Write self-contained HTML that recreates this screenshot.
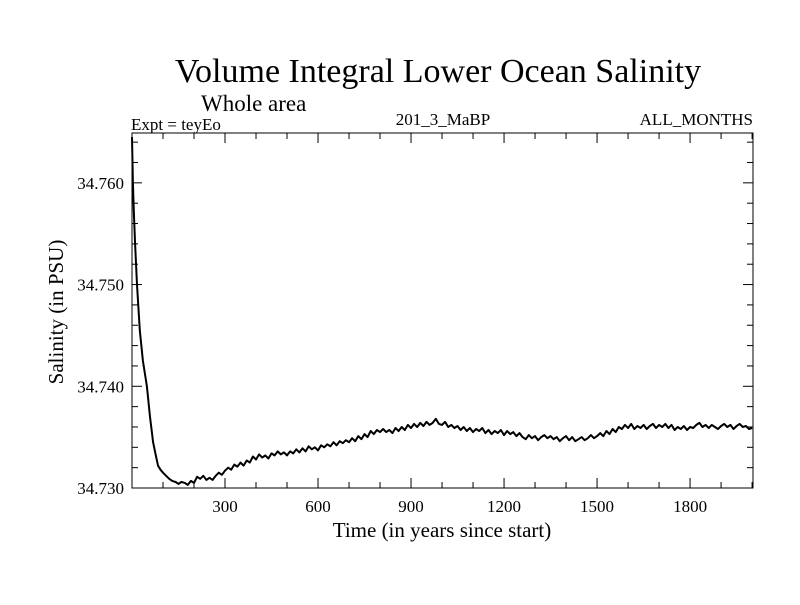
<!DOCTYPE html>
<html><head><meta charset="utf-8"><style>
body{margin:0;background:#fff;}
svg text{font-family:"Liberation Serif",serif;fill:#000;}
</style></head><body>
<svg id="chart" width="800" height="600" viewBox="0 0 800 600">
<text x="438" y="82" font-size="34" text-anchor="middle">Volume Integral Lower Ocean Salinity</text>
<text x="201" y="111" font-size="23">Whole area</text>
<text x="131" y="130" font-size="17">Expt = teyEo</text>
<text x="443" y="125" font-size="17" text-anchor="middle">201_3_MaBP</text>
<text x="753" y="125" font-size="17" text-anchor="end">ALL_MONTHS</text>
<text x="442" y="537" font-size="21" text-anchor="middle">Time (in years since start)</text>
<text transform="translate(63,312) rotate(-90)" font-size="21" text-anchor="middle">Salinity (in PSU)</text>
<g id="axes"></g>
<path id="line" fill="none" stroke="#000" stroke-width="2" stroke-linejoin="round"/>
<rect x="132" y="133" width="621" height="355" fill="none" stroke="#000" stroke-width="1"/>
</svg>
<script>
const years = [0,3,6,10,16,25,35,48,58,68,76,84,92,100,110,120,130,140,150,160,170,180,190,200,210,220,230,240,250,260,270,280,290,300,310,320,330,340,350,360,370,380,390,400,410,420,430,440,450,460,470,480,490,500,510,520,530,540,550,560,570,580,590,600,610,620,630,640,650,660,670,680,690,700,710,720,730,740,750,760,770,780,790,800,810,820,830,840,850,860,870,880,890,900,910,920,930,940,950,960,970,980,990,1000,1010,1020,1030,1040,1050,1060,1070,1080,1090,1100,1110,1120,1130,1140,1150,1160,1170,1180,1190,1200,1210,1220,1230,1240,1250,1260,1270,1280,1290,1300,1310,1320,1330,1340,1350,1360,1370,1380,1390,1400,1410,1420,1430,1440,1450,1460,1470,1480,1490,1500,1510,1520,1530,1540,1550,1560,1570,1580,1590,1600,1610,1620,1630,1640,1650,1660,1670,1680,1690,1700,1710,1720,1730,1740,1750,1760,1770,1780,1790,1800,1810,1820,1830,1840,1850,1860,1870,1880,1890,1900,1910,1920,1930,1940,1950,1960,1970,1980,1990,2000];
const salinity = [34.7645,34.760,34.757,34.754,34.750,34.7455,34.7425,34.740,34.737,34.7345,34.7333,34.7322,34.7318,34.7315,34.7312,34.7309,34.7307,34.7306,34.7304,34.7306,34.7305,34.7303,34.7307,34.7305,34.7311,34.7309,34.7312,34.7308,34.7310,34.7308,34.7312,34.7315,34.7313,34.7317,34.7320,34.7318,34.7323,34.7321,34.7325,34.7322,34.7327,34.7325,34.7331,34.7328,34.7333,34.7330,34.7332,34.7329,34.7334,34.7332,34.7336,34.7333,34.7335,34.7332,34.7336,34.7334,34.7338,34.7335,34.7339,34.7336,34.7341,34.7338,34.7340,34.7337,34.7342,34.7340,34.7343,34.7341,34.7345,34.7342,34.7346,34.7344,34.7347,34.7345,34.7349,34.7346,34.7351,34.7348,34.7353,34.7350,34.7356,34.7353,34.7357,34.7355,34.7358,34.7355,34.7357,34.7354,34.7359,34.7356,34.7360,34.7357,34.7362,34.7359,34.7363,34.7360,34.7364,34.7361,34.7365,34.7362,34.7364,34.7368,34.7363,34.7362,34.7365,34.7360,34.7362,34.7359,34.7361,34.7357,34.7360,34.7356,34.7359,34.7355,34.7358,34.7356,34.7359,34.7354,34.7357,34.7353,34.7356,34.7354,34.7357,34.7352,34.7356,34.7353,34.7355,34.7351,34.7354,34.7350,34.7348,34.7352,34.7349,34.7351,34.7347,34.7350,34.7352,34.7349,34.7351,34.7348,34.7350,34.7346,34.7349,34.7351,34.7347,34.7350,34.7346,34.7348,34.7350,34.7347,34.7349,34.7352,34.7349,34.7351,34.7354,34.7351,34.7356,34.7353,34.7358,34.7355,34.7360,34.7358,34.7362,34.7359,34.7363,34.7358,34.7361,34.7359,34.7362,34.7358,34.7361,34.7363,34.7359,34.7362,34.7360,34.7363,34.7359,34.7362,34.7357,34.7360,34.7358,34.7361,34.7357,34.7360,34.7359,34.7362,34.7364,34.7360,34.7362,34.7359,34.7362,34.7360,34.7358,34.7361,34.7363,34.7360,34.7362,34.7358,34.7361,34.7363,34.7360,34.7361,34.7358,34.7359,34.7356];
const xTicks = [300,600,900,1200,1500,1800];
const yTicks = [34.730,34.740,34.750,34.760];
const yTickLabels = ["34.730","34.740","34.750","34.760"];
const X0=132,X1=753,Y0=488,Y1=133,XMIN=0,XMAX=2003,YMIN=34.730,YMAX=34.7649;
const xs=v=>X0+(v-XMIN)/(XMAX-XMIN)*(X1-X0);
const ys=v=>Y0-(v-YMIN)/(YMAX-YMIN)*(Y0-Y1);
const NS="http://www.w3.org/2000/svg";
const g=document.getElementById('axes');
function ln(x1,y1,x2,y2,name){const l=document.createElementNS(NS,'line');l.setAttribute('x1',x1);l.setAttribute('y1',y1);l.setAttribute('x2',x2);l.setAttribute('y2',y2);l.setAttribute('stroke','#000');l.setAttribute('stroke-width','1');


g.appendChild(l);}
for(let v=100;v<XMAX;v+=100){const x=xs(v);const L=(v%300===0)?10:6;ln(x,Y0,x,Y0-L,'x-tick');ln(x,Y1,x,Y1+L,'x-tick-top');}
for(let i=0;i<=17;i++){const v=YMIN+i*0.002;const y=ys(v);if(y<Y1)break;const major=(i%5===0);const L=major?10:6;ln(X0,y,X0+L,y,'y-tick');ln(X1,y,X1-L,y,'y-tick-right');}
xTicks.forEach(v=>{const t=document.createElementNS(NS,'text');t.setAttribute('x',xs(v));t.setAttribute('y',Y0+24);t.setAttribute('font-size','17');t.setAttribute('text-anchor','middle');t.textContent=v;


g.appendChild(t);});
yTicks.forEach((v,i)=>{const t=document.createElementNS(NS,'text');t.setAttribute('x',X0-8);t.setAttribute('y',ys(v)+6);t.setAttribute('font-size','17');t.setAttribute('text-anchor','end');t.textContent=yTickLabels[i];


g.appendChild(t);});
document.getElementById('line').setAttribute('d',years.map((y,i)=>(i?'L':'M')+xs(y).toFixed(1)+','+ys(salinity[i]).toFixed(1)).join(''));
</script>
</body></html>
